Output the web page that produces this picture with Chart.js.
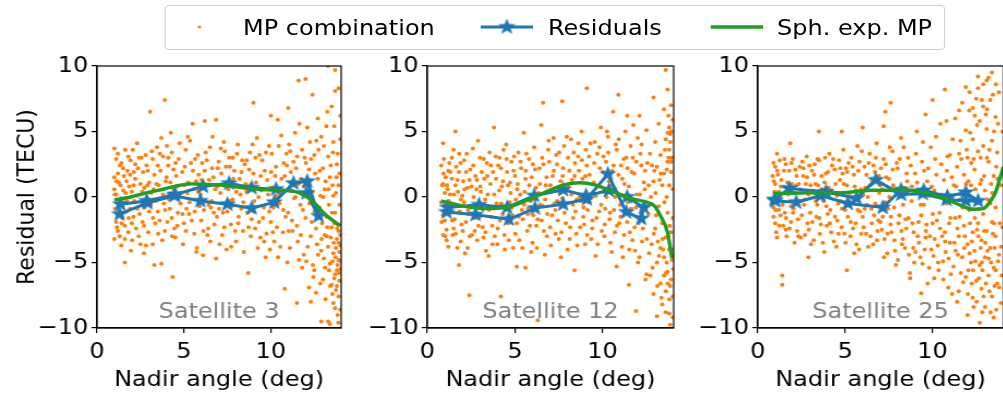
<!DOCTYPE html>
<html>
<head>
<meta charset="utf-8">
<script src="https://cdn.jsdelivr.net/npm/chart.js@4.4.0/dist/chart.umd.min.js"></script>
<style>
  html, body { margin: 0; padding: 0; background: #fff; }
  body { width: 1003px; height: 397px; overflow: hidden; position: relative; font-family: "DejaVu Sans", sans-serif; }
  /* the source figure is a little wider than tall, so stretch everything */
  #wrap { position: absolute; left: 0; top: 0; width: 940px; height: 397px; transform: scaleX(1.09); transform-origin: 0 0; }
  .panel { position: absolute; top: 55px; height: 342px; }
  #legend { position: absolute; left: 151.4px; top: 5px; width: 715.6px; height: 45px; border: 1px solid #d0d0d0; border-radius: 4px; box-sizing: border-box; }
  #legend span { position: absolute; top: 9px; font-size: 22px; line-height: 26px; color: #000; white-space: nowrap; }
  #legend canvas { position: absolute; top: 11px; }
</style>
</head>
<body>
<div id="wrap">
<div id="legend">
  <canvas id="lg1" width="20" height="20" style="left:21px"></canvas><span style="left:70.6px">MP combination</span>
  <canvas id="lg2" width="52" height="20" style="left:287px"></canvas><span style="left:350.4px">Residuals</span>
  <canvas id="lg3" width="52" height="20" style="left:498px"></canvas><span style="left:560.5px">Sph. exp. MP</span>
</div>
<div class="panel" style="left:0px;width:324px"><canvas id="c1"></canvas></div>
<div class="panel" style="left:329.7px;width:299px"><canvas id="c2"></canvas></div>
<div class="panel" style="left:633.4px;width:297.5px"><canvas id="c3"></canvas></div>
</div>
<script>
// tick positions
const xTicks = [0, 5, 10];
const yTicks = [-10, -5, 0, 5, 10];
const satLabels = ["Satellite 3", "Satellite 12", "Satellite 25"];

// Satellite 3
const sat3Mp = [[1.0,3.7],[1.1,2.9],[1.2,1.8],[1.0,0.6],[1.3,-0.2],[1.1,-1.9],[1.2,-2.6],[1.0,-3.2],[1.4,-3.7],[1.6,-5.0],
  [1.5,2.2],[1.7,1.2],[1.8,3.1],[1.9,-0.9],[1.6,-2.2],[2.0,0.4],[2.1,-1.5],[2.2,2.5],[2.3,4.1],[2.4,-3.0],[2.5,1.0],
  [2.6,-0.6],[2.7,-2.2],[2.8,3.2],[2.9,0.9],[3.0,-1.1],[3.05,6.5],[3.15,3.5],[3.2,-3.6],[3.3,-5.2],[3.3,1.7],[3.4,-0.3],
  [3.5,2.4],[3.6,-1.8],[3.7,4.5],[3.7,-5.1],[3.8,0.2],[3.9,7.4],[3.9,-2.6],[4.0,1.5],[4.1,3.0],[4.2,-0.9],[4.25,4.9],
  [4.3,-1.6],[4.35,-6.1],[4.4,2.1],[4.5,-3.1],[4.6,0.8],[4.7,2.9],[4.8,-0.5],[4.9,1.9],[5.0,-2.0],[5.1,3.6],[5.2,0.3],
  [5.3,-1.3],[5.4,2.6],[5.5,5.6],[5.6,-2.8],[5.7,1.2],[5.8,3.2],[5.9,-0.7],[6.0,-1.8],[6.1,-4.45],[6.2,5.8],[6.2,2.0],
  [6.3,0.9],[6.4,-2.4],[6.5,3.8],[6.6,-0.3],[6.7,1.5],[6.85,5.9],[6.85,-4.7],[6.9,-1.5],[7.0,2.7],[7.1,0.3],[7.2,-2.9],
  [7.3,4.2],[7.4,1.0],[7.5,-1.1],[7.6,3.0],[7.7,-2.1],[7.8,-0.2],[7.9,2.0],[8.0,-3.4],[8.1,4.0],[8.2,1.4],[8.3,-0.9],
  [8.4,-2.6],[8.5,2.5],[8.6,0.4],[8.7,-5.8],[8.8,3.4],[8.9,-1.7],[9.0,7.2],[9.0,1.8],[9.1,-2.4],[9.2,4.5],[9.3,0.0],
  [9.4,-3.1],[9.5,2.8],[9.6,-0.8],[9.7,-4.6],[9.8,1.3],[9.9,3.9],[10.0,6.2],[10.0,-1.9],[10.1,0.7],[10.2,-3.4],[10.3,2.3],
  [10.4,5.9],[10.5,-0.5],[10.6,4.7],[10.7,-2.7],[10.8,-7.0],[10.8,1.6],[10.9,3.3],[11.0,6.8],[11.0,-1.2],[11.1,-3.9],
  [11.2,0.5],[11.3,2.7],[11.4,4.9],[11.5,-8.1],[11.5,-2.2],[11.6,8.9],[11.6,1.0],[11.7,-0.6],[11.8,3.6],[11.8,-5.4],
  [11.9,-4.4],[12.0,9.0],[12.0,-1.6],[12.1,5.3],[12.2,2.1],[12.2,-6.9],[12.3,-8.0],[12.3,-3.0],[12.4,7.8],[12.4,0.4],
  [12.5,-5.6],[12.5,3.2],[12.6,-2.4],[12.6,-7.3],[12.7,6.0],[12.7,1.4],[12.8,-0.8],[12.9,-9.5],[12.9,-4.1],[12.9,4.6],
  [13.0,2.2],[13.0,-6.3],[13.1,-2.9],[13.1,0.6],[13.2,5.4],[13.2,-1.5],[13.3,10.0],[13.3,-9.5],[13.3,-3.8],[13.3,3.1],
  [13.4,-5.1],[13.4,1.5],[13.5,-6.7],[13.5,-2.3],[13.5,6.9],[13.55,-7.4],[13.6,-4.3],[13.6,0.1],[13.6,4.2],[13.7,8.1],
  [13.7,-8.5],[13.7,-5.9],[13.7,-1.2],[13.8,-3.2],[13.8,2.5],[13.8,-6.8],[13.85,-9.0],[13.9,8.3],[13.9,-7.6],[13.9,-4.8],
  [13.9,-2.6],[13.9,0.9],[13.95,1.8],[14.0,-5.5],[14.0,6.2],[14.0,-3.7],
  [1.0,1.5],[1.05,-0.9],[1.1,0.2],[1.15,-2.3],[1.2,3.3],[1.25,1.1],[1.3,-3.0],[1.35,0.9],[1.4,2.6],[1.45,-1.6],[1.5,-0.4],
  [1.55,1.6],[1.6,-3.2],[1.65,0.3],[1.7,-1.1],[1.75,2.0],[1.8,-2.7],[1.85,0.8],[1.9,1.7],[1.95,-4.1],[2.0,-2.0],[2.05,3.6],
  [2.1,0.9],[2.15,-0.3],[2.2,1.4],[2.25,-2.4],[2.3,0.1],[2.35,2.2],[2.45,-1.3],[2.5,-3.6],[2.55,3.0],[2.6,0.4],[2.65,1.9],
  [2.7,-4.3],[2.75,-0.8],[2.85,2.4],[2.95,-2.7],[3.0,1.1],[3.1,-0.6],[3.2,2.9],[3.25,0.6],[3.35,-2.0],[3.45,3.8],[3.5,-1.1],
  [3.55,0.9],[3.65,2.0],[3.75,-3.3],[3.8,3.1],[3.85,-0.5],[3.95,1.2],[4.05,-1.9],[4.1,2.4],[4.15,-0.2],[4.3,3.4],[4.4,0.6],
  [4.45,-2.4],[4.55,1.6],[4.65,-1.2],[4.75,4.1],[4.85,0.3],[4.95,-3.6],[5.05,2.3],[5.15,-0.9],[5.25,1.1],[5.35,4.3],
  [5.45,-1.8],[5.55,0.6],[5.65,2.9],[5.75,-3.9],[5.85,1.7],[5.95,0.2],[6.05,2.6],[6.15,-1.0],[6.25,3.4],[6.35,-2.9],
  [6.45,1.3],[6.55,-0.8],[6.65,4.6],[6.75,-2.1],[6.8,0.6],[6.95,2.2],[7.05,-3.6],[7.15,1.8],[7.25,-1.2],[7.35,3.5],
  [7.45,-4.0],[7.55,0.6],[7.65,2.3],[7.75,-0.7],[7.85,1.4],[7.95,-2.6],[8.05,3.3],[8.15,-1.5],[8.25,0.2],[8.35,2.8],
  [8.45,-4.2],[8.55,1.0],[8.65,-1.2],[8.75,2.1],[8.85,-3.0],[8.95,4.0],[9.05,-0.3],[9.15,1.1],[9.25,-3.9],[9.35,3.2],
  [9.45,0.5],[9.55,-1.6],[9.65,2.0],[9.75,-2.8],[9.85,0.2],[9.95,-4.0],[10.05,3.3],[10.15,-0.8],[10.25,1.6],[10.35,-2.3],
  [10.45,3.9],[10.55,-3.8],[10.65,0.3],[10.75,2.6],[10.85,-1.5],[10.95,-5.0],[11.05,4.0],[11.15,1.9],[11.25,-2.6],
  [11.35,-0.1],[11.45,2.2],[11.55,-3.4],[11.65,5.6],[11.75,1.4],[11.85,-1.0],[11.95,3.0],[12.05,-4.9],[12.15,0.9],
  [12.25,4.2],[12.35,-1.9],[12.45,-6.1],[12.55,1.8],[12.65,-3.6],[12.75,3.6],[12.85,-6.6],[12.85,0.1],[12.95,-2.0],
  [13.05,-4.7],[13.05,3.9],[13.15,-7.8],[13.15,1.2],[13.25,-2.3],[13.25,6.5],[13.35,-5.6],[13.35,-0.6],[13.45,-3.1],
  [13.45,2.4],[13.55,-4.9],[13.55,0.9],[13.65,-6.2],[13.65,-2.0],[13.65,5.4],[13.75,-3.9],[13.75,-7.1],[13.75,0.3],
  [13.85,-5.2],[13.85,-2.1],[13.85,3.3],[13.95,-6.4],[13.95,-4.2],[13.95,-0.6],[14.0,-8.6],[14.0,-2.9],[14.0,4.4],
  [13.9,-3.5],[13.8,-5.6],[13.6,-8.1],[13.4,-9.7],[13.7,9.7],
  [1.02,0.2],[1.12,1.2],[1.22,-0.7],[1.32,2.4],[1.42,-2.0],[1.52,0.5],[1.62,3.6],[1.72,-0.3],[1.82,-1.6],[1.92,2.8],
  [2.02,-3.3],[2.12,1.9],[2.32,-0.9],[2.42,3.0],[2.62,-1.9],[2.72,0.7],[2.82,-3.7],[2.92,2.0],[3.12,0.3],[3.22,-1.6],
  [3.42,1.0],[3.52,-2.8],[3.62,3.3],[3.72,-0.1],[3.92,-1.0],[4.02,3.9],[4.22,1.1],[4.32,-3.0],[4.52,2.6],[4.62,-2.2],
  [4.72,0.2],[4.92,-1.3],[5.02,0.9],[5.12,-2.6],[5.22,4.6],[5.32,-0.4],[5.52,2.0],[5.62,-1.1],[5.72,-4.2],[5.82,0.4],
  [6.02,1.3],[6.12,-2.6],[6.32,2.8],[6.42,-0.6],[6.52,-3.4],[6.62,2.2],[6.72,-1.2],[6.92,0.8],[7.02,-0.9],[7.12,3.7],
  [7.32,-2.3],[7.42,2.3],[7.62,-0.3],[7.72,-3.8],[7.82,3.0],[8.02,0.4],[8.12,-2.0],[8.32,1.9],[8.42,-0.4],[8.62,2.8],
  [8.72,-2.3],[8.82,0.9],[9.02,-1.1],[9.12,3.0],[9.32,-1.9],[9.42,1.6],[9.62,-3.4],[9.72,3.4],[9.92,-1.1],[10.02,1.9],
  [10.12,-2.7],[10.32,0.1],[10.42,-4.6],[10.62,1.4],[10.72,-1.0],[10.92,2.4],[11.02,-2.6],[11.12,3.5],[11.22,-1.8],
  [11.42,0.0],[11.52,3.1],[11.62,-4.8],[11.72,-2.9],[11.92,0.8],[12.02,2.6],[12.12,-3.8],[12.22,-0.5],[12.32,2.9],
  [12.42,-5.2],[12.52,-1.1],[12.62,4.3],[12.72,-4.4],[12.82,2.0],[12.92,-3.2],[13.02,0.0],[13.12,-5.4],[13.22,-3.0],
  [13.32,0.6],[13.42,-6.8],[13.52,-1.2],[13.62,-3.5],[13.72,-4.6],[13.82,-2.4],[13.92,-5.8],[14.02,-4.9],[13.78,1.5],
  [13.88,-9.6],[13.58,3.4]];
const sat3Res = [[1.3,-1.3],[2.9,-0.45],[4.45,0.1],[5.95,-0.3],[7.5,-0.55],[8.9,-0.85],[10.2,-0.4],[11.3,1.05],
  [12.1,1.2],[12.75,-1.45],[12.05,0.3],[10.3,0.6],[8.9,0.7],[7.6,1.05],[6.1,0.8],[4.5,0.2],[2.85,-0.3],[1.35,-0.55]];
const sat3Sph = [[1.0,-0.23],[2.0,0.02],[2.9,0.33],[3.9,0.63],[4.8,0.91],[5.5,1.0],[6.5,0.96],[7.6,0.83],[8.9,0.63],
  [10.2,0.53],[11.3,0.45],[11.8,0.2],[12.4,-0.3],[13.1,-1.3],[14.0,-2.2]];

// Satellite 12
const sat12Mp = [[0.9,4.1],[0.8,2.4],[0.9,1.0],[0.8,-0.4],[1.0,-1.8],[0.9,-2.9],[1.1,-3.3],[1.0,0.3],[1.2,2.0],[1.3,-1.2],
  [1.4,3.0],[1.5,-2.4],[1.6,5.0],[1.6,0.9],[1.7,-0.6],[1.8,-5.2],[1.8,1.9],[1.9,-3.4],[2.0,0.1],[2.1,2.8],[2.2,-1.9],
  [2.3,-3.9],[2.4,-7.5],[2.4,1.3],[2.5,-0.8],[2.6,3.7],[2.7,-2.6],[2.8,0.6],[2.9,4.3],[3.0,-1.5],[3.1,1.9],[3.2,-3.1],
  [3.3,-0.2],[3.4,2.6],[3.5,-4.5],[3.6,1.0],[3.7,-2.2],[3.8,5.3],[3.8,-0.9],[3.9,3.1],[4.0,-3.6],[4.1,0.5],[4.2,-7.6],
  [4.2,2.2],[4.3,-1.3],[4.4,-2.9],[4.5,4.0],[4.6,0.9],[4.7,-0.4],[4.8,2.7],[4.9,-3.9],[5.0,1.6],[5.1,-5.3],[5.1,-2.0],
  [5.2,3.4],[5.3,0.2],[5.4,-1.0],[5.5,4.9],[5.6,-5.4],[5.6,1.4],[5.7,-2.6],[5.8,2.9],[5.9,-0.3],[6.0,-3.5],[6.1,3.8],
  [6.2,0.7],[6.3,-9.4],[6.3,-1.7],[6.4,2.2],[6.5,5.5],[6.6,7.2],[6.6,-0.7],[6.7,-4.4],[6.8,1.5],[6.9,3.6],[7.0,-2.3],
  [7.1,0.4],[7.2,4.5],[7.3,-1.0],[7.4,2.5],[7.5,-3.2],[7.6,1.2],[7.7,7.3],[7.7,-0.1],[7.8,3.9],[7.9,-2.0],[8.0,-4.0],
  [8.1,2.0],[8.2,4.4],[8.3,-0.6],[8.4,-5.6],[8.4,1.6],[8.5,-2.8],[8.6,3.1],[8.7,0.0],[8.8,5.0],[8.9,-1.5],[9.0,-3.6],
  [9.1,8.3],[9.1,2.4],[9.2,-0.4],[9.3,4.1],[9.4,-2.4],[9.5,1.1],[9.6,-4.5],[9.7,3.3],[9.8,-1.1],[9.9,5.3],[10.0,0.4],
  [10.1,-3.0],[10.2,2.7],[10.3,4.6],[10.4,-1.7],[10.5,0.9],[10.6,6.5],[10.7,-2.7],[10.8,-5.3],[10.8,3.6],[10.9,7.8],
  [10.9,1.7],[11.0,-0.6],[11.1,-3.8],[11.2,2.9],[11.3,5.0],[11.4,6.2],[11.4,-1.9],[11.5,-6.7],[11.5,0.8],[11.6,3.9],
  [11.7,-3.3],[11.8,1.8],[11.9,-8.7],[11.9,-0.8],[12.0,4.5],[12.1,6.2],[12.1,-4.6],[12.2,2.4],[12.3,-2.4],[12.4,0.6],
  [12.5,5.1],[12.5,-5.9],[12.6,-1.3],[12.7,3.3],[12.8,-3.6],[12.9,7.6],[12.9,-7.4],[12.9,1.2],[13.0,4.2],[13.0,-2.4],
  [13.1,-9.1],[13.1,-5.0],[13.1,2.3],[13.2,-0.7],[13.2,5.6],[13.3,-3.9],[13.3,-6.6],[13.3,3.2],[13.4,0.9],[13.4,-8.2],
  [13.4,-2.0],[13.5,6.7],[13.5,-4.6],[13.5,1.8],[13.6,9.7],[13.6,-7.2],[13.6,-3.1],[13.6,4.4],[13.65,0.0],[13.7,8.2],
  [13.7,2.7],[13.7,-5.7],[13.7,-1.2],[13.75,6.2],[13.8,5.3],[13.8,3.6],[13.8,-8.9],[13.8,-4.0],[13.85,-9.75],[13.85,4.8],
  [13.9,7.0],[13.9,1.9],[13.9,-6.3],[13.9,-2.7],[13.95,3.0],[14.0,5.9],[14.0,-7.6],[14.0,0.6],
  [0.85,0.9],[0.9,-1.4],[0.95,2.9],[1.0,-0.6],[1.05,1.5],[1.1,-2.5],[1.15,0.6],[1.2,-3.8],[1.25,2.6],[1.3,0.2],[1.35,-0.9],
  [1.4,1.4],[1.45,-2.9],[1.5,3.6],[1.55,-1.7],[1.65,2.3],[1.7,-3.9],[1.75,0.4],[1.85,-1.1],[1.9,2.6],[1.95,-2.1],[2.05,1.2],
  [2.1,-0.4],[2.15,-4.3],[2.25,3.3],[2.3,0.7],[2.35,-1.3],[2.45,2.1],[2.55,-2.9],[2.65,0.0],[2.75,1.6],[2.85,-3.3],
  [2.9,-0.5],[3.0,3.0],[3.05,0.4],[3.15,-2.3],[3.25,1.4],[3.35,-4.1],[3.45,0.2],[3.55,3.4],[3.65,-1.5],[3.75,1.9],
  [3.85,-3.0],[3.95,-0.5],[4.05,2.4],[4.15,-1.8],[4.25,0.8],[4.35,3.6],[4.45,-0.9],[4.55,1.9],[4.65,-3.3],[4.75,0.3],
  [4.85,-1.4],[4.95,3.1],[5.05,-0.2],[5.15,1.0],[5.25,-3.3],[5.35,2.2],[5.45,-1.7],[5.55,0.4],[5.65,3.3],[5.75,-0.9],
  [5.85,-2.2],[5.95,1.5],[6.05,-1.4],[6.15,2.1],[6.25,-3.9],[6.35,0.3],[6.45,-0.6],[6.55,3.0],[6.65,-2.6],[6.75,0.9],
  [6.85,-1.3],[6.95,2.7],[7.05,-3.7],[7.15,1.6],[7.25,-0.5],[7.35,3.2],[7.45,-1.8],[7.55,0.3],[7.65,-2.7],[7.75,2.2],
  [7.85,-0.7],[7.95,4.6],[8.05,0.8],[8.15,-2.3],[8.25,1.3],[8.35,3.4],[8.45,-1.1],[8.55,-3.7],[8.65,2.0],[8.75,-0.3],
  [8.85,1.4],[8.95,-2.1],[9.05,3.6],[9.15,-1.0],[9.25,1.7],[9.35,-3.2],[9.45,0.3],[9.55,4.2],[9.65,-1.6],[9.75,0.8],
  [9.85,2.2],[9.95,-2.6],[10.05,3.1],[10.15,-0.9],[10.25,5.0],[10.35,1.2],[10.45,-3.5],[10.55,2.0],[10.65,-1.0],
  [10.75,4.0],[10.85,0.3],[10.95,-2.0],[11.05,2.4],[11.15,-4.6],[11.25,1.0],[11.35,3.0],[11.45,-0.4],[11.55,-2.7],
  [11.65,1.9],[11.75,5.5],[11.85,-4.1],[11.95,0.2],[12.05,-2.0],[12.15,3.3],[12.25,-3.4],[12.35,1.1],[12.45,-6.3],
  [12.55,2.6],[12.65,-4.3],[12.75,0.0],[12.85,-5.4],[12.95,2.0],[13.05,-1.4],[13.15,-3.4],[13.25,1.3],[13.35,-7.7],
  [13.45,-4.0],[13.55,3.6],[13.65,-5.0],[13.75,-3.0],[13.8,0.9],[13.85,-6.8],[13.9,5.0],[13.95,-4.8],[14.0,-1.6],
  [13.7,4.9],[13.9,2.7],[13.8,-7.8],[13.6,-8.8],[13.5,-6.0],[14.0,-9.2],
  [0.82,-1.9],[0.92,1.8],[1.02,-3.0],[1.12,0.9],[1.22,-0.3],[1.32,1.9],[1.42,-1.8],[1.52,0.2],[1.62,-2.8],[1.72,1.3],
  [1.82,3.3],[1.92,-0.2],[2.02,-2.6],[2.12,0.6],[2.22,1.9],[2.32,-1.0],[2.42,-3.0],[2.52,0.8],[2.62,2.4],[2.72,-1.6],
  [2.82,1.3],[2.92,-2.2],[3.02,0.8],[3.12,-0.9],[3.22,2.9],[3.32,-2.7],[3.42,1.6],[3.52,-1.0],[3.62,2.4],[3.72,-3.6],
  [3.82,0.2],[3.92,1.4],[4.02,-2.4],[4.12,3.0],[4.22,-0.5],[4.32,1.2],[4.42,-4.0],[4.52,2.9],[4.62,-2.0],[4.72,1.1],
  [4.82,-0.8],[4.92,2.0],[5.02,-2.8],[5.12,0.6],[5.22,-1.5],[5.32,2.7],[5.42,-3.9],[5.52,-0.6],[5.62,2.0],[5.72,-1.3],
  [5.82,0.9],[5.92,-4.2],[6.02,2.5],[6.12,-0.2],[6.22,-2.2],[6.42,1.0],[6.52,-1.8],[6.62,2.5],[6.72,-0.2],[6.82,-3.0],
  [6.92,4.3],[7.02,0.9],[7.12,-1.4],[7.22,2.0],[7.32,-2.8],[7.42,-0.3],[7.52,3.4],[7.62,-4.6],[7.72,1.6],[7.82,-1.2],
  [7.92,0.6],[8.02,3.0],[8.12,-3.2],[8.22,0.2],[8.32,-1.6],[8.42,2.6],[8.52,-0.2],[8.62,4.1],[8.72,-2.3],[8.82,2.8],
  [8.92,-0.8],[9.02,1.6],[9.12,-2.9],[9.22,3.1],[9.32,-0.1],[9.42,-1.8],[9.52,2.6],[9.62,0.1],[9.72,-3.6],[9.82,3.8],
  [9.92,-0.6],[10.02,1.9],[10.12,-2.1],[10.22,0.0],[10.32,3.4],[10.42,-1.2],[10.52,-4.2],[10.62,2.4],[10.72,0.0],
  [10.82,-2.2],[10.92,4.4],[11.02,-1.5],[11.12,1.4],[11.22,-2.9],[11.32,0.1],[11.42,2.2],[11.52,-4.0],[11.62,-0.9],
  [11.72,3.0],[11.82,-2.3],[11.92,2.7],[12.02,-5.0],[12.12,0.2],[12.22,4.0],[12.32,-1.0],[12.42,2.0],[12.52,-3.2],
  [12.62,0.9],[12.72,-6.0],[12.82,2.4],[12.92,-2.8],[13.02,0.3],[13.12,-6.8],[13.22,-4.5],[13.32,1.8],[13.42,-3.2],
  [13.52,-0.4],[13.62,-5.8],[13.72,-6.6],[13.82,-2.2],[13.92,-4.0],[14.02,-5.5],[13.86,4.2],[13.76,3.0],[13.66,2.1]];
const sat12Res = [[1.1,-1.15],[2.75,-1.35],[4.65,-1.7],[6.15,-0.85],[7.75,-0.55],[9.1,-0.15],[10.3,1.75],[11.35,-1.15],
  [12.2,-1.65],[12.35,-0.8],[11.4,0.0],[10.35,0.5],[9.05,0.1],[7.75,0.55],[6.1,0.1],[4.55,-0.8],[2.95,-0.6],[1.15,-0.8]];
const sat12Sph = [[0.8,-0.3],[2.0,-0.68],[3.2,-0.88],[4.4,-0.81],[5.5,-0.36],[6.65,0.32],[7.75,0.91],[8.7,1.09],
  [9.6,0.91],[10.5,0.46],[11.45,-0.05],[12.4,-0.36],[12.95,-0.68],[13.3,-1.44],[13.7,-2.7],[13.95,-4.65]];

// Satellite 25
const sat25Mp = [[0.9,2.6],[1.0,1.0],[0.9,-0.8],[1.0,-2.0],[1.1,-3.1],[1.1,3.3],[1.2,0.4],[1.3,-1.4],[1.4,-6.0],[1.4,-6.7],
  [1.5,2.0],[1.6,-2.5],[1.7,1.1],[1.85,4.1],[1.9,-0.7],[2.0,2.9],[2.1,-3.5],[2.2,0.9],[2.3,-1.7],[2.4,2.3],[2.5,-0.3],
  [2.6,1.6],[2.7,-2.9],[2.8,3.1],[2.9,-4.6],[2.9,0.2],[3.0,-1.2],[3.1,2.0],[3.2,-3.3],[3.3,1.0],[3.4,-0.6],[3.5,5.0],
  [3.5,2.8],[3.6,-2.1],[3.7,0.6],[3.8,-4.2],[3.9,1.8],[4.0,-1.3],[4.1,3.3],[4.2,-2.7],[4.3,0.3],[4.4,2.1],[4.5,-3.8],
  [4.6,-0.5],[4.7,1.3],[4.8,5.0],[4.8,-2.3],[4.9,3.6],[5.0,-1.0],[5.1,-5.6],[5.1,0.9],[5.2,2.6],[5.3,-3.0],[5.4,-0.1],
  [5.5,1.7],[5.6,-2.0],[5.7,3.9],[5.8,-4.0],[5.9,0.6],[6.0,5.3],[6.0,-1.5],[6.1,2.3],[6.2,-2.8],[6.3,0.0],[6.4,3.3],
  [6.5,-0.9],[6.6,-3.6],[6.7,1.9],[6.8,4.1],[6.9,-1.8],[7.0,0.9],[7.1,-2.5],[7.2,5.4],[7.2,2.9],[7.3,6.5],[7.3,-0.4],
  [7.4,-4.3],[7.5,1.4],[7.6,7.2],[7.6,-2.1],[7.7,3.5],[7.8,-0.8],[7.9,-5.2],[8.0,2.2],[8.1,-1.4],[8.2,4.5],[8.3,-3.2],
  [8.4,0.7],[8.5,-2.4],[8.6,3.0],[8.7,-5.8],[8.8,-0.3],[8.9,-3.9],[9.0,1.8],[9.1,5.0],[9.2,-1.9],[9.3,-4.6],[9.35,-7.35],
  [9.4,2.7],[9.5,-0.6],[9.6,6.3],[9.6,-3.1],[9.7,1.2],[9.8,-5.4],[9.9,3.8],[10.0,7.4],[10.0,-2.0],[10.1,-6.2],[10.1,0.5],
  [10.2,4.6],[10.3,-3.7],[10.4,-1.2],[10.5,2.5],[10.6,-4.9],[10.7,8.2],[10.7,-2.7],[10.8,5.8],[10.8,-0.5],[10.9,-6.9],
  [11.0,3.2],[11.0,-3.5],[11.1,1.5],[11.2,-5.3],[11.3,-1.6],[11.3,6.0],[11.4,-8.0],[11.4,2.3],[11.5,-7.2],[11.5,-3.0],
  [11.6,4.3],[11.6,0.2],[11.7,-4.6],[11.7,7.2],[11.8,-2.2],[11.8,1.7],[11.9,-6.1],[11.9,5.1],[12.0,-9.0],[12.0,-3.6],
  [12.0,3.0],[12.1,-1.0],[12.1,6.6],[12.2,-5.0],[12.2,0.9],[12.3,-7.7],[12.3,-2.7],[12.3,4.4],[12.4,-4.1],[12.4,2.1],
  [12.5,7.5],[12.5,-6.4],[12.5,-0.3],[12.6,8.3],[12.6,-2.0],[12.6,3.5],[12.7,-9.6],[12.7,-5.2],[12.7,5.8],[12.8,-3.3],
  [12.8,1.3],[12.8,-7.0],[12.9,6.9],[12.9,-1.3],[12.9,3.9],[13.0,-4.6],[13.0,-8.4],[13.0,0.5],[13.1,5.2],[13.1,-2.6],
  [13.1,8.9],[13.2,9.1],[13.2,-6.0],[13.2,2.7],[13.3,-3.9],[13.3,-0.5],[13.3,7.4],[13.4,-7.6],[13.4,4.3],[13.4,-1.9],
  [13.5,-5.4],[13.5,1.6],[13.5,-9.2],[13.6,6.1],[13.6,-3.0],[13.6,-0.8],[13.7,3.4],[13.7,-6.6],[13.8,8.0],[13.8,-4.4],
  [13.9,0.9],[13.9,-8.1],[14.0,5.0],[14.0,-2.3],
  [0.85,1.6],[0.9,-1.5],[0.95,0.4],[1.0,2.3],[1.05,-2.7],[1.15,1.7],[1.2,-1.0],[1.25,2.8],[1.3,-0.3],[1.35,1.3],[1.45,-2.2],
  [1.5,0.8],[1.55,-1.2],[1.6,2.5],[1.65,-3.0],[1.75,0.2],[1.8,2.0],[1.9,-1.9],[1.95,1.0],[2.05,-0.9],[2.15,2.1],[2.25,-2.6],
  [2.35,1.0],[2.45,-3.1],[2.55,2.7],[2.65,-0.6],[2.75,1.0],[2.85,-2.0],[2.95,2.4],[3.05,-3.6],[3.15,0.5],[3.25,2.5],
  [3.35,-1.5],[3.45,0.9],[3.55,-2.8],[3.65,1.6],[3.75,-0.3],[3.85,3.0],[3.95,-2.2],[4.05,0.7],[4.15,-1.0],[4.25,2.4],
  [4.35,-3.4],[4.45,1.0],[4.55,-1.8],[4.65,2.8],[4.75,-0.3],[4.85,1.8],[4.95,-2.8],[5.05,2.2],[5.15,-1.5],[5.25,0.3],
  [5.35,3.0],[5.45,-2.4],[5.55,0.8],[5.65,-3.6],[5.75,2.0],[5.85,-1.1],[5.95,3.5],[6.05,-2.3],[6.15,0.7],[6.25,-0.6],
  [6.35,2.6],[6.45,-3.0],[6.55,1.2],[6.65,-1.4],[6.75,3.0],[6.85,-2.6],[6.95,0.3],[7.05,2.2],[7.15,-1.5],[7.25,-3.2],
  [7.35,1.5],[7.45,-0.9],[7.55,3.8],[7.65,-2.7],[7.75,0.9],[7.85,-4.1],[7.95,2.6],[8.05,-2.0],[8.15,0.3],[8.25,-3.6],
  [8.35,3.8],[8.45,-1.7],[8.55,1.2],[8.65,-4.4],[8.75,2.4],[8.85,-2.0],[8.95,-5.0],[9.05,3.3],[9.15,-3.0],[9.25,0.4],
  [9.35,-1.4],[9.45,4.2],[9.55,-4.0],[9.65,-2.1],[9.75,2.2],[9.85,-3.0],[9.95,0.8],[10.05,-4.5],[10.15,2.9],[10.25,-1.8],
  [10.35,-5.6],[10.45,5.6],[10.55,-3.0],[10.65,1.3],[10.75,-4.2],[10.85,3.1],[10.95,-2.0],[11.05,-5.9],[11.15,4.4],
  [11.25,-3.5],[11.35,0.8],[11.45,-4.4],[11.55,-1.5],[11.65,2.9],[11.75,-6.5],[11.85,-3.0],[11.95,3.6],[12.05,-5.6],
  [12.05,1.2],[12.15,-2.0],[12.15,4.9],[12.25,-6.6],[12.25,-3.4],[12.35,2.9],[12.35,-8.4],[12.45,-4.9],[12.45,0.6],
  [12.55,-2.5],[12.55,5.5],[12.65,-6.2],[12.65,-0.9],[12.75,-3.9],[12.75,3.0],[12.85,-8.8],[12.85,-5.6],[12.95,-2.6],
  [12.95,1.6],[13.05,-6.6],[13.05,6.3],[13.15,-4.1],[13.15,-0.2],[13.25,-7.2],[13.25,3.6],[13.35,-5.0],[13.35,1.0],
  [13.45,-2.8],[13.45,7.8],[13.55,-6.8],[13.55,-3.9],[13.65,2.3],[13.65,-8.6],[13.75,-4.9],[13.75,5.6],[13.85,-2.0],
  [13.95,-6.0],[12.6,9.2],[12.9,8.6],[13.4,9.5],[11.9,8.4],[12.3,6.8],
  [0.82,-0.2],[0.92,1.2],[1.02,-1.0],[1.12,2.0],[1.22,-2.2],[1.32,0.8],[1.42,-0.6],[1.52,2.9],[1.62,-1.6],[1.72,0.6],
  [1.82,-2.4],[1.92,2.6],[2.02,-1.2],[2.12,0.3],[2.22,1.6],[2.32,-3.0],[2.42,0.6],[2.52,-1.4],[2.62,2.2],[2.72,-0.2],
  [2.82,1.5],[2.92,-2.5],[3.02,0.9],[3.12,-1.9],[3.22,1.7],[3.32,-0.3],[3.42,2.9],[3.52,-1.6],[3.62,0.2],[3.72,-3.5],
  [3.82,1.1],[3.92,-0.7],[4.02,1.9],[4.12,-2.0],[4.22,0.5],[4.32,2.9],[4.42,-1.5],[4.52,0.1],[4.62,-2.8],[4.72,2.2],
  [4.82,-0.9],[4.92,1.0],[5.02,-3.5],[5.12,1.9],[5.22,-0.6],[5.32,-1.9],[5.42,2.3],[5.52,-4.3],[5.62,0.5],[5.72,-1.0],
  [5.82,2.7],[5.92,-2.8],[6.02,0.2],[6.12,-0.9],[6.22,1.7],[6.32,-3.8],[6.42,0.9],[6.52,-2.0],[6.62,2.4],[6.72,-0.5],
  [6.82,-3.3],[6.92,1.6],[7.02,-1.9],[7.12,0.6],[7.22,-4.6],[7.32,2.5],[7.42,-2.8],[7.52,0.0],[7.62,-1.5],[7.72,2.1],
  [7.82,-3.3],[7.92,0.4],[8.02,-4.8],[8.12,2.9],[8.22,-2.6],[8.32,-0.6],[8.42,-3.9],[8.52,1.8],[8.62,-1.6],[8.72,-6.2],
  [8.82,0.8],[8.92,-2.7],[9.02,-4.2],[9.12,1.1],[9.22,-3.5],[9.32,-0.6],[9.42,-5.1],[9.52,2.0],[9.62,-2.6],[9.72,-6.6],
  [9.82,0.1],[9.92,-4.0],[10.02,-1.3],[10.12,-3.2],[10.22,1.7],[10.32,-5.0],[10.42,-2.4],[10.52,0.2],[10.62,-6.3],
  [10.72,-3.4],[10.82,2.0],[10.92,-4.7],[11.02,-1.6],[11.12,-7.4],[11.22,0.9],[11.32,-4.1],[11.42,-2.4],[11.52,3.3],
  [11.62,-5.8],[11.72,-0.8],[11.82,-3.9],[11.92,1.0],[12.02,-7.4],[12.12,-4.3],[12.22,2.6],[12.32,-5.6],[12.42,-1.6],
  [12.52,-8.0],[12.62,-3.0],[12.72,1.0],[12.82,-5.0],[12.92,-7.6],[13.02,-3.5],[13.12,3.0],[13.22,-4.7],[13.32,-8.8],
  [13.42,0.3],[13.52,-2.0],[13.62,-5.6],[13.72,1.4],[13.82,-6.9],[13.92,-3.8],[12.42,6.2],[12.82,7.4],[13.12,6.7],
  [13.52,5.0],[13.62,8.6],[11.52,6.6],[12.12,8.0]];
const sat25Res = [[1.0,-0.3],[2.2,-0.4],[3.6,0.1],[5.15,-0.5],[7.15,-0.8],[8.2,0.55],[9.5,0.5],[10.85,0.05],[11.9,0.35],
  [12.6,-0.3],[11.9,-0.3],[10.8,-0.2],[9.45,0.25],[8.2,0.2],[6.75,1.3],[5.65,-0.1],[3.9,0.4],[1.8,0.65],[0.95,-0.2]];
const sat25Sph = [[0.9,0.25],[2.9,0.33],[4.7,0.33],[6.6,0.51],[8.4,0.51],[9.9,0.2],[10.85,-0.18],[11.6,-0.63],
  [12.3,-0.94],[12.9,-0.89],[13.25,-0.43],[13.6,0.33],[13.85,1.4],[14.05,2.3]];

const ORANGE = "#ff7f0e", BLUE = "#1f77b4", GREEN = "#1f9e1f";
const FONT = { family: "DejaVu Sans", size: 22, lineHeight: 1.2 };

function makeStar(size, color) {
  const c = document.createElement("canvas");
  c.width = c.height = size;
  const g = c.getContext("2d");
  g.fillStyle = color;
  g.beginPath();
  for (let i = 0; i < 10; i++) {
    const r = i % 2 ? size * 0.21 : size * 0.5;
    const a = -Math.PI / 2 + i * Math.PI / 5;
    const px = size / 2 + r * Math.cos(a), py = size / 2 + r * Math.sin(a);
    i ? g.lineTo(px, py) : g.moveTo(px, py);
  }
  g.closePath();
  g.fill();
  return c;
}
const star = makeStar(17, BLUE);

// frame + satellite name
const boxPlugin = {
  id: "box",
  afterDraw(chart, args, opts) {
    const a = chart.chartArea, c = chart.ctx;
    c.save();
    c.strokeStyle = "#000";
    c.lineWidth = 1.2;
    c.strokeRect(a.left, a.top, a.right - a.left, a.bottom - a.top);
    c.fillStyle = "#808080";
    c.font = "22px 'DejaVu Sans'";
    c.textAlign = "center";
    c.textBaseline = "middle";
    c.fillText(opts.label, (a.left + a.right) / 2, a.bottom - 16);
    c.restore();
  }
};

const toXY = arr => arr.map(p => ({ x: p[0], y: p[1] }));
const minus = v => String(v).replace("-", "\u2212");

function makePanel(id, mp, res, sph, label, yWidth, showTitle) {
  new Chart(document.getElementById(id), {
    type: "scatter",
    data: {
      datasets: [
        { type: "line", data: toXY(sph), borderColor: GREEN, borderWidth: 3.4, pointRadius: 0,
          cubicInterpolationMode: "monotone", order: 1 },
        { type: "line", data: toXY(res), borderColor: BLUE, borderWidth: 3, tension: 0,
          pointStyle: star, pointRadius: 8, order: 2 },
        { data: toXY(mp), backgroundColor: ORANGE, borderWidth: 0, pointRadius: 2, order: 3 }
      ]
    },
    options: {
      responsive: true,
      maintainAspectRatio: false,
      animation: false,
      events: [],
      layout: { padding: { top: 9, right: 3, left: 0, bottom: 0 } },
      plugins: { legend: { display: false }, tooltip: { enabled: false }, box: { label: label } },
      scales: {
        x: {
          type: "linear", min: 0, max: 14.05,
          afterBuildTicks: s => { s.ticks = xTicks.map(v => ({ value: v })); },
          afterFit: s => { s.height = 69; s.paddingLeft = 0; s.paddingRight = 0; },
          grid: { drawOnChartArea: false, drawTicks: true, tickLength: 5, color: "#000", lineWidth: 1.2 },
          border: { display: true, color: "#000", width: 1.2 },
          ticks: { color: "#000", font: FONT, padding: 6, callback: minus, maxRotation: 0 },
          title: { display: true, text: "Nadir angle (deg)", color: "#000", font: FONT, padding: { top: 0, bottom: 4 } }
        },
        y: {
          type: "linear", min: -10, max: 10,
          afterBuildTicks: s => { s.ticks = yTicks.map(v => ({ value: v })); },
          afterFit: s => { s.width = yWidth; s.paddingTop = 0; s.paddingBottom = 0; },
          grid: { drawOnChartArea: false, drawTicks: true, tickLength: 5, color: "#000", lineWidth: 1.2 },
          border: { display: true, color: "#000", width: 1.2 },
          ticks: { color: "#000", font: FONT, padding: 3, callback: minus },
          title: { display: showTitle, text: "Residual (TECU)", color: "#000", font: FONT, padding: { top: 12.5, bottom: 0 } }
        }
      }
    },
    plugins: [boxPlugin]
  });
}

makePanel("c1", sat3Mp, sat3Res, sat3Sph, satLabels[0], 89, true);
makePanel("c2", sat12Mp, sat12Res, sat12Sph, satLabels[1], 62, false);
makePanel("c3", sat25Mp, sat25Res, sat25Sph, satLabels[2], 62, false);

// legend symbols
(function () {
  let g = document.getElementById("lg1").getContext("2d");
  g.fillStyle = ORANGE; g.beginPath(); g.arc(10, 10, 1.6, 0, Math.PI * 2); g.fill();
  g = document.getElementById("lg2").getContext("2d");
  g.strokeStyle = BLUE; g.lineWidth = 3; g.beginPath(); g.moveTo(2, 10); g.lineTo(50, 10); g.stroke();
  g.drawImage(star, 26 - 8.5, 10 - 8.5);
  g = document.getElementById("lg3").getContext("2d");
  g.strokeStyle = GREEN; g.lineWidth = 3.4; g.beginPath(); g.moveTo(2, 10); g.lineTo(50, 10); g.stroke();
})();
</script>
</body>
</html>
